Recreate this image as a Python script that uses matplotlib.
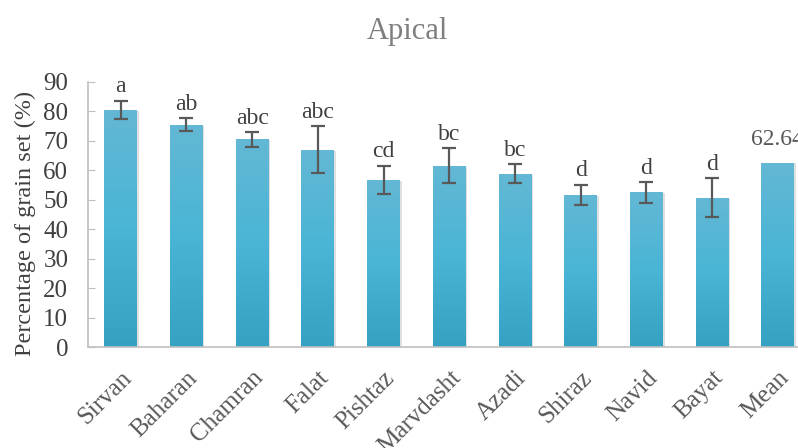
import numpy as np
import matplotlib
matplotlib.use("Agg")
import matplotlib.pyplot as plt
from matplotlib.colors import LinearSegmentedColormap

# ----------------------------------------------------
# Data
# ----------------------------------------------------

cultivars = ["Sirvan", "Baharan", "Chamran", "Falat", "Pishtaz",
             "Marvdasht", "Azadi", "Shiraz", "Navid", "Bayat", "Mean"]

grain_set = [80.5, 75.5, 70.5, 67.0, 56.8, 61.6, 58.9, 51.7, 52.5, 50.7, 62.64]

errors = [3.2, 2.2, 2.4, 7.9, 4.7, 5.9, 3.2, 3.4, 3.4, 6.6, 0.0]

letters = ["a", "ab", "abc", "abc", "cd", "bc", "bc", "d", "d", "d", "62.64"]

# ----------------------------------------------------
# Style
# ----------------------------------------------------

plt.rcParams["font.family"] = ["Liberation Serif", "DejaVu Serif"]

grey_text = "#595959"
axis_grey = "#bfbfbf"

bar_cmap = LinearSegmentedColormap.from_list(
    "bar", ["#35a2c3", "#4ab5d6", "#63b8d4"]
)

fig = plt.figure(figsize=(7.98, 4.48), dpi=100)
ax = fig.add_axes([0.110, 0.225, 0.906, 0.592])

x = np.arange(len(cultivars))

bars = ax.bar(x, grain_set, width=0.5, color="none", edgecolor="none", zorder=2)

# gradient fill + soft shadow on each bar
grad = np.linspace(0, 1, 256).reshape(-1, 1)
for b in bars:
    x0, w, h = b.get_x(), b.get_width(), b.get_height()
    ax.bar(x0 + w / 2 + 0.025, h, width=w, bottom=-0.3,
           color="#000000", alpha=0.12, zorder=1)
    im = ax.imshow(grad, cmap=bar_cmap, aspect="auto", origin="lower",
                   extent=[x0, x0 + w, 0, h], zorder=2)
    im.set_clip_path(b)

ax.errorbar(x[:-1], grain_set[:-1], yerr=errors[:-1], fmt="none",
            ecolor="#595959", elinewidth=1.6, capsize=5, capthick=1.6, zorder=3)

for i, lab in enumerate(letters):
    top = grain_set[i] + errors[i]
    if i < len(letters) - 1:
        ax.text(x[i], top + 1.2, lab, ha="center", va="bottom",
                fontsize=17, color="#404040", zorder=4)
    else:
        ax.text(x[i], top + 4.3, lab, ha="center", va="bottom",
                fontsize=17, color=grey_text, zorder=4)

# ----------------------------------------------------
# Axes
# ----------------------------------------------------

ax.set_xlim(-0.5, len(cultivars) - 0.5)
ax.set_ylim(0, 90)
ax.set_yticks(np.arange(0, 91, 10))

ax.set_xticks(x)
ax.set_xticklabels(cultivars, rotation=45, ha="right", va="top",
                   rotation_mode="anchor", fontsize=18, color=grey_text)

ax.tick_params(axis="y", direction="in", length=5, color=axis_grey,
               labelsize=18, labelcolor="#404040", pad=14)
ax.tick_params(axis="x", length=0, pad=14)

for side in ["top", "right"]:
    ax.spines[side].set_visible(False)
for side in ["left", "bottom"]:
    ax.spines[side].set_color(axis_grey)
    ax.spines[side].set_linewidth(1.2)

ax.set_ylabel("Percentage of grain set (%)", fontsize=17.5,
              color="#404040")
ax.yaxis.set_label_coords(-0.072, 0.466)

fig.text(0.511, 0.93, "Apical", ha="center", va="center",
         fontsize=22, color="#7f7f7f")

plt.savefig("out.png", dpi=100)
plt.close()
